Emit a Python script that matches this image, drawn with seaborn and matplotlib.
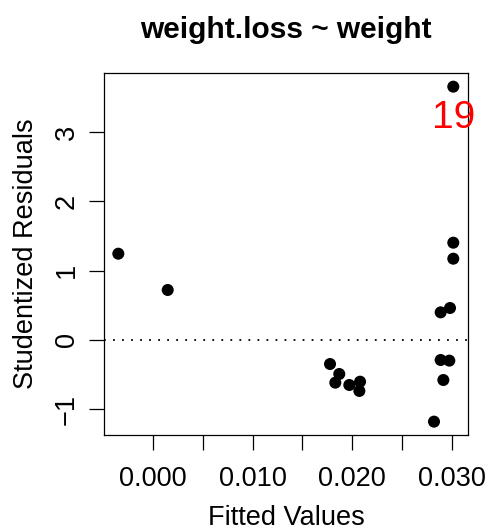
import matplotlib
matplotlib.use("Agg")
import matplotlib.pyplot as plt
import seaborn as sns
import pandas as pd

fitted = [-0.00352, 0.00145, 0.01778, 0.01871, 0.01831, 0.01972, 0.0208, 0.02073,
          0.02824, 0.02918, 0.02891, 0.02978, 0.02891, 0.02985, 0.03018, 0.03018, 0.03018]
resid = [1.246, 0.722, -0.347, -0.491, -0.616, -0.650, -0.602, -0.736,
         -1.179, -0.578, -0.289, -0.298, 0.399, 0.462, 1.174, 1.405, 3.658]
outlier_label = "19"
outlier_index = 16
xticks = [0.000, 0.005, 0.010, 0.015, 0.020, 0.025, 0.030]
xticklabels = ["0.000", "", "0.010", "", "0.020", "", "0.030"]
yticks = [-1, 0, 1, 2, 3]
yticklabels = ["\u22121", "0", "1", "2", "3"]

df = pd.DataFrame({"Fitted Values": fitted, "Studentized Residuals": resid})

sns.set_style("white")
plt.rcParams["font.family"] = ["Liberation Sans", "DejaVu Sans"]
plt.rcParams["text.color"] = "black"

W, H = 487, 531
fig = plt.figure(figsize=(W / 100, H / 100), dpi=100)
ax = fig.add_axes([104 / W, 1 - 435 / H, (468.3 - 104) / W, (435 - 73.3) / H])

sns.scatterplot(data=df, x="Fitted Values", y="Studentized Residuals", ax=ax,
                s=75, color="black", edgecolor="none", linewidth=0, zorder=3)
ax.axhline(0, color="black", linewidth=1.3, linestyle=(0, (1, 4)), zorder=1)

ax.annotate(outlier_label, (fitted[outlier_index], resid[outlier_index]),
            xytext=(0, -29.5), textcoords="offset points", ha="center", va="baseline",
            color="red", fontsize=28, annotation_clip=False)

ax.set_xlim(-0.00496, 0.031690)
ax.set_ylim(-1.372, 3.851)
ax.set_xticks(xticks)
ax.set_xticklabels(xticklabels)
ax.set_yticks(yticks)
ax.set_yticklabels(yticklabels, rotation=90, va="center")
ax.tick_params(axis="both", which="major", bottom=True, left=True, top=False, right=False,
               direction="out", length=11, width=0.9, color="black",
               labelsize=19.5, labelcolor="black")
ax.tick_params(axis="x", pad=11.5)
ax.tick_params(axis="y", pad=6.5)
for sp in ax.spines.values():
    sp.set_visible(True)
    sp.set_color("black")
    sp.set_linewidth(0.9)

ax.set_xlabel("")
ax.set_ylabel("")
fig.text(286 / W, 1 - 525 / H, "Fitted Values", ha="center", va="baseline",
         fontsize=19.5, color="black")
fig.text(33 / W, 1 - 254 / H, "Studentized Residuals", ha="center", va="baseline",
         rotation=90, rotation_mode="anchor", fontsize=19.5, color="black")
fig.text(286 / W, 1 - 38.3 / H, "weight.loss ~ weight", ha="center", va="baseline",
         fontsize=21.5, fontweight="bold", color="black")

fig.savefig("out.png", dpi=100)
